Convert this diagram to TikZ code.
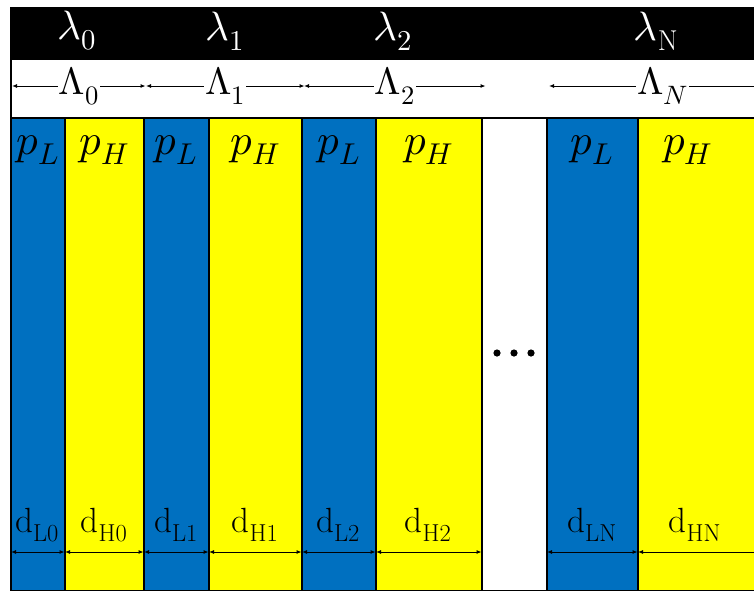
\documentclass[tikz,border=0pt]{standalone}
\usepackage{amsmath}
\usepackage{unicode-math}
\setmathfont{Latin Modern Math}
\usetikzlibrary{arrows.meta}
\definecolor{layblue}{RGB}{0,112,192}
\definecolor{layyellow}{RGB}{255,255,0}
\begin{document}
\begin{tikzpicture}[x=1pt,y=-1pt,
  col/.style={draw=black, line width=1.6pt, anchor=north west, inner sep=0pt,
              minimum height=473pt, minimum width=#1},
  blue/.style={col=#1, fill=layblue},
  yel/.style={col=#1, fill=layyellow},
  gap/.style={col=#1, fill=white},
  lamlab/.style={text=white, font=\fontsize{41}{46}\selectfont},
  biglab/.style={font=\fontsize{38}{42}\selectfont, fill=white, inner sep=1pt},
  plab/.style={font=\fontsize{43}{48}\selectfont},
  dlab/.style={font=\fontsize{35}{40}\selectfont},
  dim/.style={line width=1pt, {Latex[length=5pt,width=4pt]}-{Latex[length=5pt,width=4pt]}},
  dot/.style={fill=black}
]
\useasboundingbox (0,0) rectangle (754,590);
\clip (0,0) rectangle (754,590);
% header bands
\node[draw=black, fill=black, line width=1pt, anchor=north west, minimum width=760pt, minimum height=51pt, inner sep=0] (band) at (10,7) {};
\node[draw=black, fill=white, line width=1.6pt, anchor=north west, minimum width=760pt, minimum height=59pt, inner sep=0] (wband) at (10,58) {};
% columns
\node[blue=54pt]  (L0) at (10,117) {};
\node[yel=79pt]   (H0) at (64,117) {};
\node[blue=65pt]  (L1) at (143,117) {};
\node[yel=93pt]   (H1) at (208,117) {};
\node[blue=74pt]  (L2) at (301,117) {};
\node[yel=106pt]  (H2) at (375,117) {};
\node[gap=65pt]   (G)  at (481,117) {};
\node[blue=91pt]  (LN) at (546,117) {};
\node[yel=130pt]  (HN) at (637,117) {};
% lambda labels
\node[lamlab] (lam0) at (77,31) {$\lambda_0$};
\node[lamlab] (lam1) at (225,31) {$\lambda_1$};
\node[lamlab] (lam2) at (393,31) {$\lambda_2$};
\node[lamlab] (lamN) at (656,31) {$\lambda_{\mathrm{N}}$};
% period arrows
\draw[dim] ([xshift=2pt]L0.west |- 0,86) -- ([xshift=1pt]H0.east |- 0,86)
  node[biglab, pos=0.5] (P0) {$\Lambda_0$};
\draw[dim] ([xshift=3pt]L1.west |- 0,86) -- ([xshift=2pt]H1.east |- 0,86)
  node[biglab, pos=0.5] (P1) {$\Lambda_1$};
\draw[dim] ([xshift=3pt]L2.west |- 0,86) -- ([xshift=3pt]H2.east |- 0,86)
  node[biglab, pos=0.5] (P2) {$\Lambda_2$};
\draw[dim] ([xshift=3pt]LN.west |- 0,86) -- ([xshift=30pt]HN.east |- 0,86)
  node[biglab, pos=0.455] (PN) {$\Lambda_N$};
% layer labels
\foreach \c in {L0,L1,L2,LN} {
  \node[plab] (p\c) at (\c.center |- 0,150) {$p_L$};
  \draw[dim] ([xshift=1pt]\c.west |- 0,552) -- ([xshift=-1pt]\c.east |- 0,552);
}
\foreach \c in {H0,H1,H2} {
  \node[plab] (p\c) at (\c.center |- 0,150) {$p_H$};
  \draw[dim] ([xshift=1pt]\c.west |- 0,552) -- ([xshift=-1pt]\c.east |- 0,552);
}
\node[plab] (pHN) at (688,150) {$p_H$};
\draw[dim] ([xshift=1pt]HN.west |- 0,552) -- ([xshift=-1pt]HN.east |- 0,552);
% thickness labels
\node[dlab] (dL0) at (37,525) {$\mathrm{d}_{\mathrm{L0}}$};
\node[dlab] (dH0) at (104,525) {$\mathrm{d}_{\mathrm{H0}}$};
\node[dlab] (dL1) at (176,525) {$\mathrm{d}_{\mathrm{L1}}$};
\node[dlab] (dH1) at (255,525) {$\mathrm{d}_{\mathrm{H1}}$};
\node[dlab] (dL2) at (338,525) {$\mathrm{d}_{\mathrm{L2}}$};
\node[dlab] (dH2) at (428,525) {$\mathrm{d}_{\mathrm{H2}}$};
\node[dlab] (dLN) at (592,525) {$\mathrm{d}_{\mathrm{LN}}$};
\node[dlab] (dHN) at (695,525) {$\mathrm{d}_{\mathrm{HN}}$};
% ellipsis
\fill[dot] (497,353) circle (3.6pt) (514,353) circle (3.6pt) (531,353) circle (3.6pt);
\end{tikzpicture}
\end{document}
